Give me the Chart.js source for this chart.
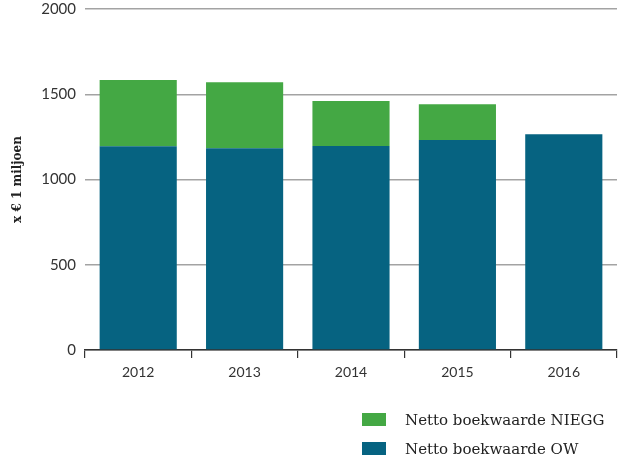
<!DOCTYPE html>
<html lang="nl">
<head>
    <meta charset="UTF-8">
    <title>Netto boekwaarde</title>
    <script src="https://cdn.jsdelivr.net/npm/chart.js"></script>
    <style>
        html, body { margin: 0; padding: 0; background: #fff; }
        #wrap { position: relative; width: 622px; height: 459px; }
        #legend { position: absolute; left: 362px; top: 405px; font-family: "DejaVu Serif", serif; font-size: 15px; color: #222; }
        #legend div { display: flex; align-items: center; height: 29px; }
        #legend span.box { display: inline-block; width: 24px; height: 13px; margin-right: 19px; }
    </style>
</head>
<body>
<div id="wrap">
    <canvas id="chart" width="622" height="459"></canvas>
    <div id="legend"></div>
</div>

<script>
const years = ["2012", "2013", "2014", "2015", "2016"];
const owValues = [1195, 1184, 1196, 1231, 1266];
const nieggValues = [388, 387, 264, 211, 0];
const yTicks = [0, 500, 1000, 1500, 2000];

const green = "#44a844";
const blue = "#066381";

const ctx = document.getElementById("chart").getContext("2d");

const chart = new Chart(ctx, {
    type: 'bar',
    data: {
        labels: years,
        datasets: [
            { label: 'Netto boekwaarde OW', data: owValues, backgroundColor: blue, stack: 's' },
            { label: 'Netto boekwaarde NIEGG', data: nieggValues, backgroundColor: green, stack: 's' }
        ]
    },
    options: {
        responsive: false,
        animation: false,
        layout: { padding: { top: 9, right: 5, left: 0, bottom: 0 } },
        datasets: { bar: { categoryPercentage: 1, barPercentage: 0.725 } },
        plugins: {
            legend: { display: false },
            tooltip: { enabled: false }
        },
        scales: {
            x: {
                stacked: true,
                grid: { offset: true, drawOnChartArea: false, drawTicks: true, tickLength: 8, color: '#333', lineWidth: 1.2 },
                border: { display: true, color: '#333', width: 1.5 },
                ticks: { color: '#333', padding: 6, font: { family: 'Lato', size: 14 } },
                afterFit: scale => { scale.height = 109; scale.paddingLeft = 0; scale.paddingRight = 0; }
            },
            y: {
                stacked: true,
                min: 0,
                max: 2000,
                afterBuildTicks: scale => { scale.ticks = yTicks.map(v => ({ value: v })); },
                grid: { color: '#a3a3a3', lineWidth: 1.5, drawTicks: false },
                border: { display: false },
                ticks: { color: '#333', padding: 9, font: { family: 'Lato', size: 15 }, callback: v => String(v) },
                title: {
                    display: true,
                    text: 'x € 1 miljoen',
                    color: '#222',
                    padding: { top: 11, bottom: 0 },
                    font: { family: 'DejaVu Serif', size: 12, weight: 'bold' }
                },
                afterFit: scale => { scale.width = 85; scale.paddingTop = 0; scale.paddingBottom = 0; }
            }
        }
    }
});

// legend, NIEGG on top
const legend = document.getElementById("legend");
[chart.data.datasets[1], chart.data.datasets[0]].forEach(ds => {
    const row = document.createElement("div");
    row.innerHTML = `<span class="box" style="background:${ds.backgroundColor}"></span>${ds.label}`;
    legend.appendChild(row);
});
</script>
</body>
</html>
